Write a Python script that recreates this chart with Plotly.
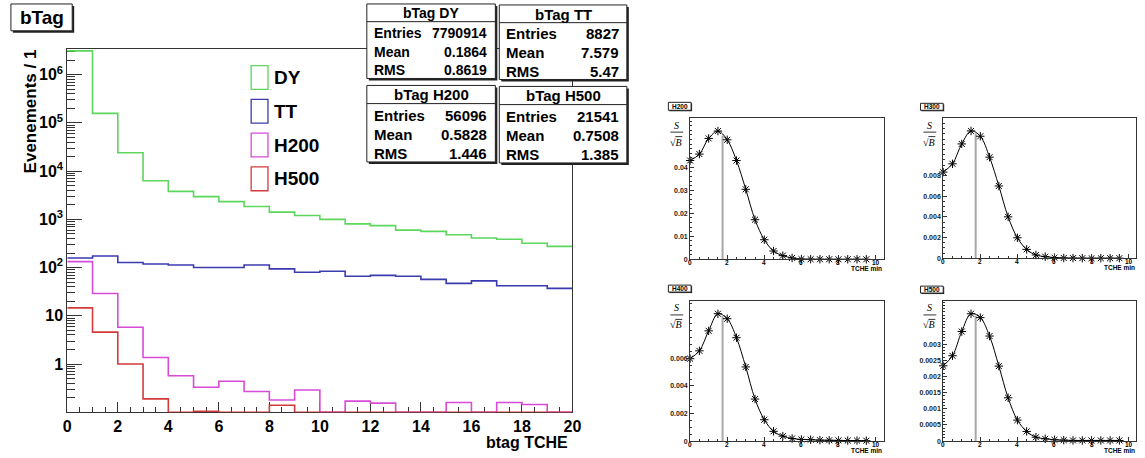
import numpy as np
import plotly.graph_objects as go

W, H = 1145, 458
SANS = "Liberation Sans"
SERIF = "Liberation Serif"

# ---------------- b-tag discriminator histograms (20 bins of width 1) ----------------
bin_edges = [0, 1, 2, 3, 4, 5, 6, 7, 8, 9, 10, 11, 12, 13, 14, 15, 16, 17, 18, 19, 20]
dy_counts = [3.1e6, 1.57e5, 2.4e4, 6.3e3, 3.8e3, 2.95e3, 2.33e3, 1.84e3, 1.41e3, 1.2e3,
             1.0e3, 807, 740, 598, 562, 479, 410, 386, 320, 275]
tt_counts = [158, 174, 127, 119, 113, 100, 100, 113, 94, 80,
             84, 66, 69, 66, 57, 47, 53, 42, 42, 37]
h200_counts = [133, 29, 5.8, 1.37, 0.57, 0.33, 0.44, 0.27, 0.18, 0.29,
               0, 0.17, 0.155, 0, 0, 0.16, 0, 0.16, 0.145, 0]
h500_counts = [14.6, 4.6, 1.0, 0.19, 0, 0.105, 0, 0, 0.14, 0,
               0, 0, 0, 0, 0, 0, 0, 0, 0, 0]

series_names = ["DY", "TT", "H200", "H500"]
series_colors = ["#5cd65c", "#3b3bb0", "#d84bd8", "#d53a3a"]
series_counts = [dy_counts, tt_counts, h200_counts, h500_counts]

# statistics boxes
stat_titles = ["bTag DY", "bTag TT", "bTag H200", "bTag H500"]
stat_entries = [7790914, 8827, 56096, 21541]
stat_mean = [0.1864, 7.579, 0.5828, 0.7508]
stat_rms = [0.8619, 5.47, 1.446, 1.385]

y_tick_vals = [1, 10, 1e2, 1e3, 1e4, 1e5, 1e6]
y_tick_text = ["1", "10", "10<sup>2</sup>", "10<sup>3</sup>", "10<sup>4</sup>",
               "10<sup>5</sup>", "10<sup>6</sup>"]
x_tick_vals = [0, 2, 4, 6, 8, 10, 12, 14, 16, 18, 20]

# ---------------- S/sqrt(B) versus TCHE cut ----------------
scan_names = ["H200", "H300", "H400", "H500"]
cut_values = [0, 0.5, 1, 1.5, 2, 2.5, 3, 3.5, 4, 4.5,
              5, 5.5, 6, 6.5, 7, 7.5, 8, 8.5, 9, 9.5]
sig_h200 = [0.0429, 0.0457, 0.0525, 0.0557, 0.0519, 0.0429, 0.0304, 0.0172, 0.0085, 0.0036,
            0.0016, 0.0006, 0.0001, 0.00005, 0.00003, 0.00002, 0.00001, 0.00001, 0.00001, 0.00001]
sig_h300 = [0.00832, 0.00912, 0.01104, 0.01229, 0.01178, 0.00976, 0.00698, 0.0040, 0.00198, 0.00086,
            0.00032, 0.00016, 0.00006, 0.00003, 0.00002, 0.00001, 0.00001, 0.00001, 0.00001, 0.00001]
sig_h400 = [0.00598, 0.00655, 0.0080, 0.00924, 0.00888, 0.0075, 0.00538, 0.00305, 0.00155, 0.00071,
            0.00036, 0.00019, 0.00012, 0.0001, 0.00007, 0.00006, 0.00005, 0.00004, 0.00004, 0.00003]
sig_h500 = [0.00233, 0.00264, 0.00339, 0.00394, 0.00382, 0.00325, 0.00232, 0.00134, 0.00065, 0.0003,
            0.00012, 0.00007, 0.00004, 0.00003, 0.00002, 0.00002, 0.00002, 0.00002, 0.00002, 0.00002]
scan_sig = [sig_h200, sig_h300, sig_h400, sig_h500]
optimal_cut = 1.75
scan_major_step = [0.01, 0.002, 0.002, 0.0005]
scan_minor_step = [0.002, 0.0005, 0.0005, 0.0001]
scan_last_label = [0.04, 0.008, 0.006, 0.003]
scan_x_ticks = [0, 2, 4, 6, 8, 10]


def fx(x):
    return x / W


def fy(y):
    return 1 - y / H


shapes = []
annotations = []


def pave(x0, y0, x1, y1, shadow=2):
    shapes.append(dict(type="rect", xref="paper", yref="paper", layer="above",
                       x0=fx(x0 + shadow), x1=fx(x1 + shadow), y0=fy(y1 + shadow), y1=fy(y0 + shadow),
                       fillcolor="#222", line=dict(width=0)))
    shapes.append(dict(type="rect", xref="paper", yref="paper", layer="above",
                       x0=fx(x0), x1=fx(x1), y0=fy(y1), y1=fy(y0),
                       fillcolor="white", line=dict(color="#222", width=1)))


def text(x, y, s, size, xanchor="center", yanchor="middle", bold=True, family=SANS, angle=0,
         xref="paper"):
    annotations.append(dict(xref=xref, yref="paper", x=fx(x) if xref == "paper" else x,
                            y=fy(y), text=s,
                            showarrow=False, xanchor=xanchor, yanchor=yanchor, textangle=angle,
                            font=dict(family=family, size=size, color="black",
                                      weight="bold" if bold else "normal")))


fig = go.Figure()

# ---------------- main histogram panel ----------------
y_floor = 0.1
for name, color, counts in zip(series_names, series_colors, series_counts):
    vals = [c if c > 0 else y_floor for c in counts]
    fig.add_trace(go.Scatter(x=bin_edges, y=vals + [vals[-1]], mode="lines",
                             line=dict(color=color, width=1.6, shape="hv"),
                             name=name, showlegend=False, cliponaxis=False,
                             xaxis="x", yaxis="y"))

minor_log = [k * 10.0 ** d for d in range(-1, 7) for k in range(2, 10)]
axis_color = "#333"
layout_axes = dict(
    xaxis=dict(domain=[fx(64), fx(575)], range=[0, 20], tickmode="array", tickvals=x_tick_vals,
               ticks="inside", ticklen=10, tickwidth=1, tickcolor=axis_color,
               minor=dict(dtick=0.5, tick0=0, ticks="inside", ticklen=5, tickcolor=axis_color),
               showline=True, linecolor=axis_color, linewidth=1, mirror=True,
               showgrid=False, zeroline=False, layer="below traces", anchor="y",
               tickfont=dict(family=SANS, size=16, color="black", weight="bold")),
    yaxis=dict(domain=[fy(415), fy(49)], type="log", range=[-1, np.log10(3.45e6)],
               tickmode="array", tickvals=y_tick_vals, ticktext=y_tick_text,
               ticks="inside", ticklen=15, tickwidth=1, tickcolor=axis_color,
               minor=dict(tickmode="array", tickvals=minor_log, ticks="inside", ticklen=8,
                          tickcolor=axis_color),
               showline=True, linecolor=axis_color, linewidth=1, mirror=True,
               showgrid=False, zeroline=False, layer="below traces", anchor="x",
               tickfont=dict(family=SANS, size=16, color="black", weight="bold")),
)

text(573, 445, "btag TCHE", 16, xanchor="right")
text(27, 48, "Evenements / 1", 17, yanchor="top", angle=-90)

# title pave
pave(7, 4, 69, 31)
text(38, 17.5, "bTag", 19)

# legend
leg_top = [66, 100, 134, 168]
for name, color, top in zip(series_names, series_colors, leg_top):
    shapes.append(dict(type="rect", xref="paper", yref="paper", layer="above",
                       x0=fx(250), x1=fx(267), y0=fy(top + 24), y1=fy(top),
                       fillcolor="rgba(0,0,0,0)", line=dict(color=color, width=1.3)))
    text(271, top + 12, name, 19, xanchor="left")

# statistics boxes
stat_boxes = [(367, 4, 497, 79, 14), (501, 5, 630, 80, 15),
              (367, 86, 497, 163, 15), (501, 87, 630, 164, 15)]
for (x0, y0, x1, y1, fs), title, ent, mean, rms in zip(stat_boxes, stat_titles, stat_entries,
                                                       stat_mean, stat_rms):
    pave(x0, y0, x1, y1)
    row_h = (y1 - y0) / 4.0
    shapes.append(dict(type="line", xref="paper", yref="paper", layer="above",
                       x0=fx(x0), x1=fx(x1), y0=fy(y0 + row_h * 0.95), y1=fy(y0 + row_h * 0.95),
                       line=dict(color="#222", width=1)))
    text((x0 + x1) / 2, y0 + row_h * 0.5, title, fs)
    for r, (lab, val) in enumerate([("Entries", f"{ent}"), ("Mean", f"{mean:.4g}"),
                                     ("RMS", f"{rms:.4g}")]):
        yc = y0 + row_h * (1.5 + r) + 1
        text(x0 + 5, yc, lab, fs, xanchor="left")
        text(x1 - 6, yc, val, fs, xanchor="right")

# ---------------- S/sqrt(B) scan panels ----------------
panel_boxes = [(694, 119, 890, 261), (950, 119, 1145, 260),
               (694, 303, 890, 444), (950, 303, 1145, 444)]
panel_title_boxes = [(672, 103, 695, 111), (927, 104, 950, 111),
                     (672, 287, 695, 294), (927, 288, 950, 295)]
x_full = 10.45
for i, (name, sig) in enumerate(zip(scan_names, scan_sig)):
    k = i + 2
    x0, y0, x1, y1 = panel_boxes[i]
    ymax = 1.1 * max(sig)
    xmax = x_full * min(1.0, (x1 - x0) / 196.0)
    peak = float(np.interp(optimal_cut, cut_values, sig))
    fig.add_trace(go.Scatter(x=[optimal_cut, optimal_cut], y=[0, peak], mode="lines",
                             line=dict(color="#a8a8a8", width=2), showlegend=False,
                             xaxis=f"x{k}", yaxis=f"y{k}"))
    fig.add_trace(go.Scatter(x=cut_values, y=sig, mode="lines+markers",
                             line=dict(color="black", width=1, shape="spline", smoothing=1),
                             marker=dict(symbol="asterisk-open", size=7,
                                         line=dict(color="black", width=1)),
                             name=name, showlegend=False, cliponaxis=False,
                             xaxis=f"x{k}", yaxis=f"y{k}"))
    step = scan_major_step[i]
    n_label = int(round(scan_last_label[i] / step))
    yt = [round(j * step, 6) for j in range(n_label + 1)]
    ytt = ["0" if v == 0 else f"{v:g}" for v in yt]
    tf = dict(family=SANS, size=7, color="#222", weight="bold")
    layout_axes[f"xaxis{k}"] = dict(
        domain=[fx(x0), fx(x1)], range=[0, xmax], anchor=f"y{k}",
        tickmode="array", tickvals=scan_x_ticks, ticks="inside", ticklen=4, tickcolor=axis_color,
        minor=dict(dtick=0.5, tick0=0, ticks="inside", ticklen=2, tickcolor=axis_color),
        showline=True, linecolor=axis_color, linewidth=1, mirror=True, showgrid=False,
        zeroline=False, showticklabels=False)
    layout_axes[f"yaxis{k}"] = dict(
        domain=[fy(y1), fy(y0)], range=[0, ymax], anchor=f"x{k}",
        tickmode="array", tickvals=yt, ticktext=ytt, ticks="inside", ticklen=4,
        tickcolor=axis_color,
        minor=dict(dtick=scan_minor_step[i], tick0=0, ticks="inside", ticklen=2,
                   tickcolor=axis_color),
        showline=True, linecolor=axis_color, linewidth=1, mirror=True, showgrid=False,
        zeroline=False, tickfont=tf, ticklabelstandoff=0)
    # x tick labels sit tight under the frame
    for v in scan_x_ticks:
        text(v, y1 + 3, str(v), 6.5, xref=f"x{k}")
    # axis title S / sqrt(B)
    text(x0 - 14, y0 + 7, "<i>S</i>", 10, bold=False, family=SERIF)
    shapes.append(dict(type="line", xref="paper", yref="paper", layer="above",
                       x0=fx(x0 - 20), x1=fx(x0 - 7), y0=fy(y0 + 14), y1=fy(y0 + 14),
                       line=dict(color="black", width=0.8)))
    text(x0 - 14, y0 + 24, "√<i>B</i>", 10, bold=False, family=SERIF)
    shapes.append(dict(type="line", xref="paper", yref="paper", layer="above",
                       x0=fx(x0 - 15), x1=fx(x0 - 8), y0=fy(y0 + 18.5), y1=fy(y0 + 18.5),
                       line=dict(color="black", width=0.8)))
    # x title and panel label
    text(x0 + 196, y1 + 9, "TCHE min", 6.5, xanchor="right")
    tx0, ty0, tx1, ty1 = panel_title_boxes[i]
    pave(tx0, ty0, tx1, ty1, shadow=1)
    text((tx0 + tx1) / 2, (ty0 + ty1) / 2, name, 6.5)

fig.update_layout(width=W, height=H, margin=dict(l=0, r=0, t=0, b=0),
                  paper_bgcolor="white", plot_bgcolor="white", showlegend=False,
                  shapes=shapes, annotations=annotations, **layout_axes)

fig.write_html("out.html")
